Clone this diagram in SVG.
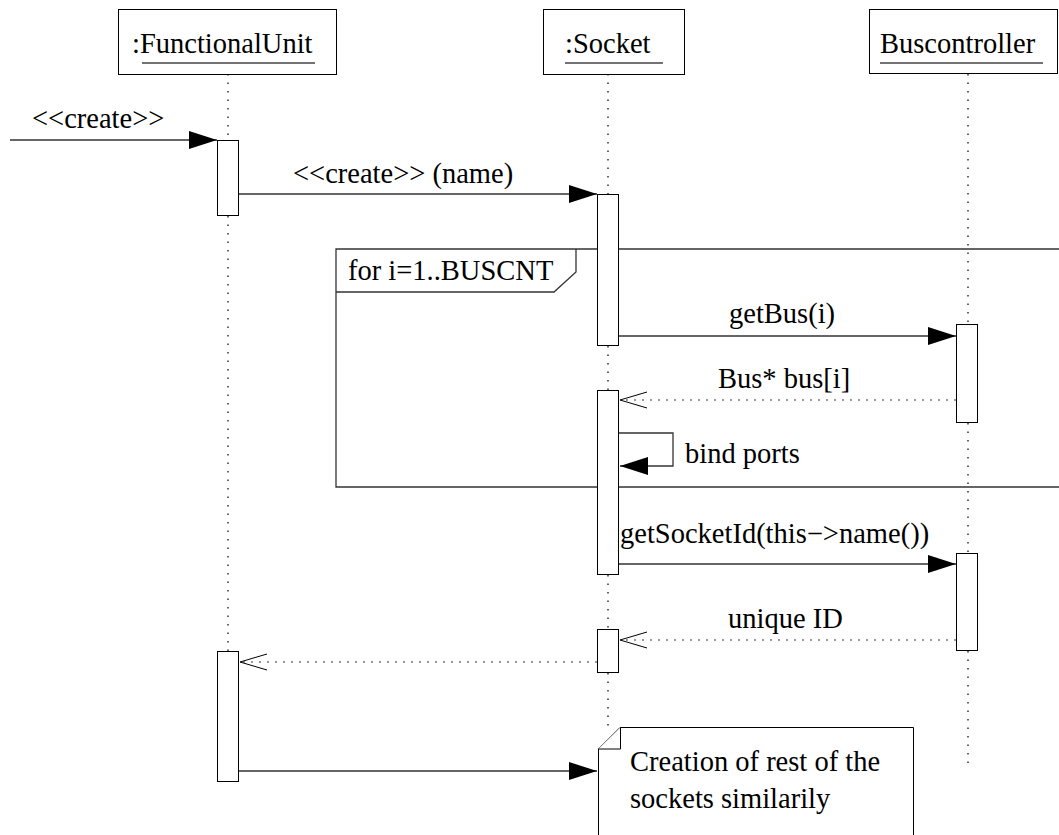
<svg xmlns="http://www.w3.org/2000/svg" width="1059" height="835" viewBox="0 0 1059 835">
<style>
text{font-family:'Liberation Serif','Times New Roman',serif;font-size:28.5px;fill:#000}
.box{fill:#fff;stroke:#000;stroke-width:1}
.ul{stroke:#444;stroke-width:1.3}
.life{stroke:#000;stroke-width:1.2;stroke-dasharray:1.5 7;fill:none}
.msg{stroke:#333;stroke-width:1.3;fill:none}
.ret{stroke:#333;stroke-width:1.2;stroke-dasharray:2 6;fill:none}
.frame{stroke:#333;stroke-width:1.3;fill:none}
</style>
<defs>
<marker id="filled" markerUnits="userSpaceOnUse" markerWidth="30" markerHeight="20" refX="28" refY="9" orient="auto">
<path d="M0,0 L28,9 L0,18 Z" fill="#000"/>
</marker>
<marker id="open" markerUnits="userSpaceOnUse" markerWidth="30" markerHeight="20" refX="28" refY="9" orient="auto">
<path d="M1,1 L28,9 L1,17" fill="none" stroke="#000" stroke-width="1"/>
</marker>
</defs>
<rect width="1059" height="835" fill="#fff"/>

<g id="lifelines">
<path class="life" d="M228,74 V140 M228,216 V651"/>
<path class="life" d="M608,74 V194 M608,346 V390 M608,575 V629 M608,673 V727"/>
<path class="life" d="M968,74 V324 M968,423 V553 M968,651 V768"/>
</g>

<g id="loop-frame">
<path class="frame" d="M1060,249 H336 V487 H1060"/>
<path class="frame" d="M336,292 H554 L576,272 V249"/>
<text x="348" y="280">for i=1..BUSCNT</text>
</g>

<g id="functionalunit">
<rect class="box" x="118.5" y="9.5" width="218" height="65"/>
<text x="132" y="53">:FunctionalUnit</text>
<line class="ul" x1="142" y1="63" x2="315" y2="63"/>
</g>
<g id="socket">
<rect class="box" x="543.5" y="9.5" width="141" height="65"/>
<text x="565" y="53">:Socket</text>
<line class="ul" x1="565" y1="63" x2="663" y2="63"/>
</g>
<g id="buscontroller">
<rect class="box" x="869.5" y="9.5" width="188" height="64"/>
<text x="880" y="53">Buscontroller</text>
<line class="ul" x1="880" y1="63" x2="1043" y2="63"/>
</g>

<g id="activations">
<rect class="box" x="217.5" y="140.5" width="21" height="75"/>
<rect class="box" x="217.5" y="651.5" width="21" height="130"/>
<rect class="box" x="597.5" y="194.5" width="21" height="151"/>
<rect class="box" x="597.5" y="390.5" width="21" height="184"/>
<rect class="box" x="597.5" y="629.5" width="21" height="43"/>
<rect class="box" x="956.5" y="324.5" width="21" height="98"/>
<rect class="box" x="956.5" y="553.5" width="21" height="97"/>
</g>

<g id="note">
<path class="box" d="M598.5,749 L620,727.5 H913.5 V840 H598.5 Z"/>
<path class="box" d="M598.5,749 H620.5 V727.5" fill="none"/>
<text x="630" y="771">Creation of rest of the</text>
<text x="630" y="808">sockets similarily</text>
</g>

<g id="connectors">
<line class="msg" x1="10" y1="140" x2="217" y2="140" marker-end="url(#filled)"/>
<text x="32" y="128">&lt;&lt;create&gt;&gt;</text>
<line class="msg" x1="239" y1="194" x2="597" y2="194" marker-end="url(#filled)"/>
<text x="293" y="183">&lt;&lt;create&gt;&gt; (name)</text>
<line class="msg" x1="619" y1="336" x2="956" y2="336" marker-end="url(#filled)"/>
<text x="729" y="323">getBus(i)</text>
<line class="ret" x1="956" y1="400" x2="620" y2="400" marker-end="url(#open)"/>
<text x="718" y="388">Bus* bus[i]</text>
<path class="msg" d="M619,433 H673 V466 H620" marker-end="url(#filled)"/>
<text x="685" y="463">bind ports</text>
<line class="msg" x1="619" y1="564" x2="956" y2="564" marker-end="url(#filled)"/>
<text x="620" y="543">getSocketId(this−&gt;name())</text>
<line class="ret" x1="956" y1="640" x2="620" y2="640" marker-end="url(#open)"/>
<text x="728" y="628">unique ID</text>
<line class="ret" x1="597" y1="662" x2="240" y2="662" marker-end="url(#open)"/>
<line class="msg" x1="239" y1="771" x2="597" y2="771" marker-end="url(#filled)"/>
</g>
</svg>
